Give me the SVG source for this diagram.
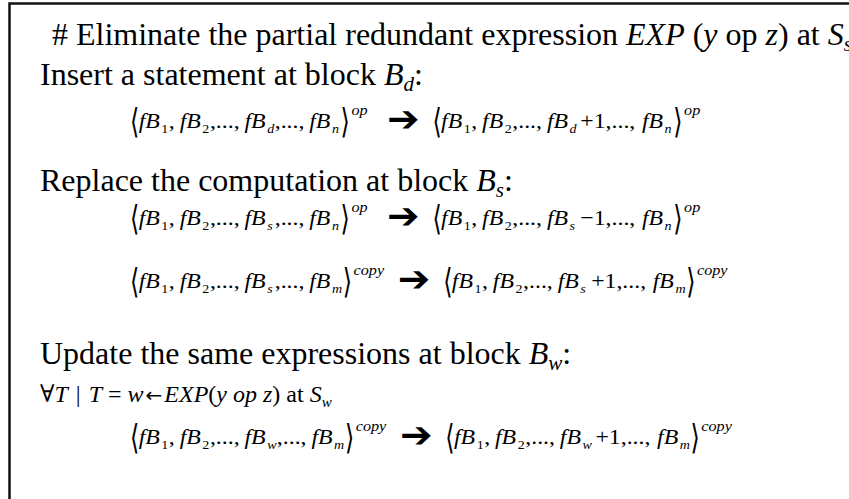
<svg xmlns="http://www.w3.org/2000/svg" width="849" height="499" viewBox="0 0 849 499">
  <style>
    .h { font-family: "Liberation Serif", "Times New Roman", serif; font-size: 32px; fill: #000; }
    .i { font-style: italic; }
    .m { font-family: "Liberation Serif", serif; font-style: italic; font-size: 22px; fill: #000; }
    .u { font-family: "Liberation Serif", "DejaVu Serif", serif; font-size: 22px; fill: #000; }
    .c { font-family: "Liberation Serif", "DejaVu Serif", serif; font-size: 24px; fill: #000; }
    .s { font-size: 13px; }
    .sp { font-family: "Liberation Serif", serif; font-style: italic; font-size: 15px; fill: #000; }
    .br { font-family: "DejaVu Sans", sans-serif; font-size: 22px; fill: #000; }
    .ar { font-family: "DejaVu Sans", sans-serif; font-size: 36px; fill: #000; }
    .la { font-family: "DejaVu Sans", sans-serif; font-size: 20px; }
  </style>

  <!-- frame -->
  <rect x="0" y="0" width="849" height="499" fill="#fff"/>
  <rect id="frame" x="9.5" y="3.5" width="880" height="540" fill="none" stroke="#111" stroke-width="2.5"/>

  <!-- headings -->
  <g id="title">
    <text class="h" x="52" y="45"># Eliminate the partial redundant expression <tspan class="i">EXP</tspan> (<tspan class="i">y</tspan> op <tspan class="i">z</tspan>) at <tspan class="i">S</tspan><tspan class="i" font-size="21" dy="6">s</tspan></text>
  </g>
  <g id="insert-label">
    <text class="h" x="40" y="85">Insert a statement at block <tspan class="i">B</tspan><tspan class="i" font-size="21" dy="6">d</tspan><tspan dy="-6">:</tspan></text>
  </g>
  <g id="replace-label">
    <text class="h" x="40" y="191">Replace the computation at block <tspan class="i">B</tspan><tspan class="i" font-size="21" dy="6">s</tspan><tspan dy="-6">:</tspan></text>
  </g>
  <g id="update-label">
    <text class="h" x="40" y="364">Update the same expressions at block <tspan class="i">B</tspan><tspan class="i" font-size="21" dy="6">w</tspan><tspan dy="-6">:</tspan></text>
  </g>

  <!-- insert: op vector, block d incremented -->
  <g id="eq-insert" transform="translate(130,128) scale(1.08,1)">
    <text class="br" y="3" transform="scale(1,1.55)">⟨</text>
    <text class="m" x="8">fB</text><text class="u s" x="29" y="5">1</text>
    <text class="u" x="36">,</text>
    <text class="m" x="46">fB</text><text class="u s" x="67" y="5">2</text>
    <text class="u" x="74">,...,</text>
    <text class="m" x="106">fB</text><text class="m s" x="127" y="5">d</text>
    <text class="u" x="134">,...,</text>
    <text class="m" x="166">fB</text><text class="m s" x="187" y="5">n</text>
    <text class="br" x="195" y="3" transform="scale(1,1.55)">⟩</text>
    <text class="sp" x="205" y="-13">op</text>
    <text class="ar" x="238" y="3">➔</text>
    <text class="br" x="280" y="3" transform="scale(1,1.55)">⟨</text>
    <text class="m" x="288">fB</text><text class="u s" x="309" y="5">1</text>
    <text class="u" x="316">,</text>
    <text class="m" x="326">fB</text><text class="u s" x="347" y="5">2</text>
    <text class="u" x="354">,...,</text>
    <text class="m" x="386">fB</text><text class="m s" x="407" y="5">d</text>
    <text class="u" x="417">+1,...,</text>
    <text class="m" x="474">fB</text><text class="m s" x="495" y="5">n</text>
    <text class="br" x="503" y="3" transform="scale(1,1.55)">⟩</text>
    <text class="sp" x="513" y="-13">op</text>
  </g>

  <!-- replace: op vector, block s decremented -->
  <g id="eq-replace-op" transform="translate(130,225) scale(1.08,1)">
    <text class="br" y="3" transform="scale(1,1.55)">⟨</text>
    <text class="m" x="8">fB</text><text class="u s" x="29" y="5">1</text>
    <text class="u" x="36">,</text>
    <text class="m" x="46">fB</text><text class="u s" x="67" y="5">2</text>
    <text class="u" x="74">,...,</text>
    <text class="m" x="106">fB</text><text class="m s" x="127" y="5">s</text>
    <text class="u" x="134">,...,</text>
    <text class="m" x="166">fB</text><text class="m s" x="187" y="5">n</text>
    <text class="br" x="195" y="3" transform="scale(1,1.55)">⟩</text>
    <text class="sp" x="205" y="-13">op</text>
    <text class="ar" x="238" y="3">➔</text>
    <text class="br" x="280" y="3" transform="scale(1,1.55)">⟨</text>
    <text class="m" x="288">fB</text><text class="u s" x="309" y="5">1</text>
    <text class="u" x="316">,</text>
    <text class="m" x="326">fB</text><text class="u s" x="347" y="5">2</text>
    <text class="u" x="354">,...,</text>
    <text class="m" x="386">fB</text><text class="m s" x="407" y="5">s</text>
    <text class="u" x="417">−1,...,</text>
    <text class="m" x="474">fB</text><text class="m s" x="495" y="5">n</text>
    <text class="br" x="503" y="3" transform="scale(1,1.55)">⟩</text>
    <text class="sp" x="513" y="-13">op</text>
  </g>

  <!-- replace: copy vector, block s incremented -->
  <g id="eq-replace-copy" transform="translate(130,288) scale(1.08,1)">
    <text class="br" y="3" transform="scale(1,1.55)">⟨</text>
    <text class="m" x="8">fB</text><text class="u s" x="29" y="5">1</text>
    <text class="u" x="36">,</text>
    <text class="m" x="46">fB</text><text class="u s" x="67" y="5">2</text>
    <text class="u" x="74">,...,</text>
    <text class="m" x="106">fB</text><text class="m s" x="127" y="5">s</text>
    <text class="u" x="134">,...,</text>
    <text class="m" x="166">fB</text><text class="m s" x="187" y="5">m</text>
    <text class="br" x="197" y="3" transform="scale(1,1.55)">⟩</text>
    <text class="sp" x="207" y="-13">copy</text>
    <text class="ar" x="248" y="3">➔</text>
    <text class="br" x="290" y="3" transform="scale(1,1.55)">⟨</text>
    <text class="m" x="298">fB</text><text class="u s" x="319" y="5">1</text>
    <text class="u" x="326">,</text>
    <text class="m" x="336">fB</text><text class="u s" x="357" y="5">2</text>
    <text class="u" x="364">,...,</text>
    <text class="m" x="396">fB</text><text class="m s" x="417" y="5">s</text>
    <text class="u" x="427">+1,...,</text>
    <text class="m" x="484">fB</text><text class="m s" x="505" y="5">m</text>
    <text class="br" x="515" y="3" transform="scale(1,1.55)">⟩</text>
    <text class="sp" x="525" y="-13">copy</text>
  </g>

  <!-- update condition -->
  <g id="cond">
    <text class="c" x="40" y="402">∀<tspan class="i">T</tspan><tspan dx="8">|</tspan><tspan class="i" dx="8">T</tspan> = <tspan class="i">w</tspan><tspan class="la" dx="2">←</tspan><tspan class="i" dx="2">EXP</tspan>(<tspan class="i">y op z</tspan>) at <tspan class="i">S</tspan><tspan class="i" font-size="15" dy="5">w</tspan></text>
  </g>

  <!-- update: copy vector, block w incremented -->
  <g id="eq-update" transform="translate(130,444) scale(1.08,1)">
    <text class="br" y="3" transform="scale(1,1.55)">⟨</text>
    <text class="m" x="8">fB</text><text class="u s" x="29" y="5">1</text>
    <text class="u" x="36">,</text>
    <text class="m" x="46">fB</text><text class="u s" x="67" y="5">2</text>
    <text class="u" x="74">,...,</text>
    <text class="m" x="106">fB</text><text class="m s" x="127" y="5">w</text>
    <text class="u" x="136">,...,</text>
    <text class="m" x="168">fB</text><text class="m s" x="189" y="5">m</text>
    <text class="br" x="199" y="3" transform="scale(1,1.55)">⟩</text>
    <text class="sp" x="209" y="-13">copy</text>
    <text class="ar" x="250" y="3">➔</text>
    <text class="br" x="292" y="3" transform="scale(1,1.55)">⟨</text>
    <text class="m" x="300">fB</text><text class="u s" x="321" y="5">1</text>
    <text class="u" x="328">,</text>
    <text class="m" x="338">fB</text><text class="u s" x="359" y="5">2</text>
    <text class="u" x="366">,...,</text>
    <text class="m" x="398">fB</text><text class="m s" x="419" y="5">w</text>
    <text class="u" x="431">+1,...,</text>
    <text class="m" x="488">fB</text><text class="m s" x="509" y="5">m</text>
    <text class="br" x="519" y="3" transform="scale(1,1.55)">⟩</text>
    <text class="sp" x="529" y="-13">copy</text>
  </g>
</svg>
